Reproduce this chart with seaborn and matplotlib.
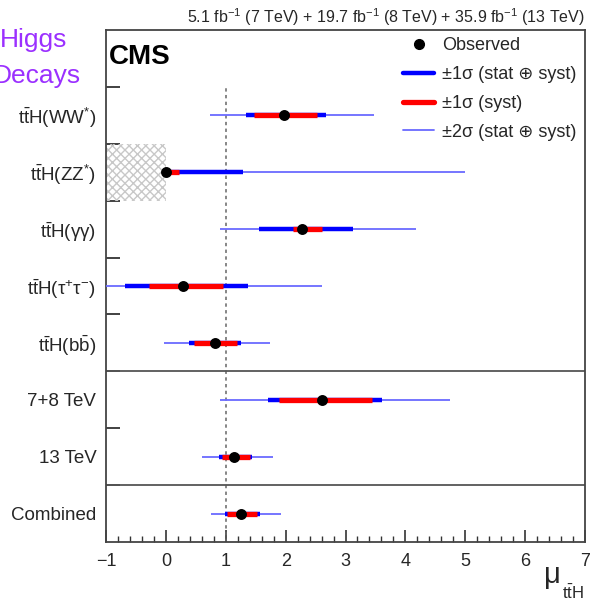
import numpy as np
import pandas as pd
import matplotlib
matplotlib.use("Agg")
import matplotlib.pyplot as plt
import seaborn as sns
from matplotlib.lines import Line2D
from matplotlib.ticker import MultipleLocator, FixedLocator

# ---------------- data ----------------
categories = [
    r"$\mathrm{t\bar{t}H(WW^{*})}$",
    r"$\mathrm{t\bar{t}H(ZZ^{*})}$",
    r"$\mathrm{t\bar{t}H(γγ)}$",
    r"$\mathrm{t\bar{t}H(τ^{+}τ^{-})}$",
    r"$\mathrm{t\bar{t}H(b\bar{b})}$",
    "7+8 TeV",
    "13 TeV",
    "Combined",
]
mu_obs   = [1.97, 0.00, 2.28, 0.28, 0.82, 2.60, 1.13, 1.26]
tot1_lo  = [1.34, 0.00, 1.55, -0.68, 0.39, 1.71, 0.88, 0.99]
tot1_hi  = [2.68, 1.29, 3.13, 1.37, 1.26, 3.61, 1.44, 1.57]
syst1_lo = [1.48, 0.00, 2.13, -0.29, 0.47, 1.89, 0.94, 1.02]
syst1_hi = [2.53, 0.22, 2.60, 0.96, 1.19, 3.45, 1.41, 1.52]
tot2_lo  = [0.74, 0.00, 0.90, -1.20, -0.03, 0.91, 0.61, 0.76]
tot2_hi  = [3.48, 4.99, 4.17, 2.61, 1.74, 4.75, 1.79, 1.93]
zz_excluded = (-1.0, 0.0)          # unphysical region shaded for ZZ*
sm_value = 1.0
x_ticks = [-1, 0, 1, 2, 3, 4, 5, 6, 7]
header = (r"5.1 fb$^{-1}$ (7 TeV) + 19.7 fb$^{-1}$ (8 TeV) + "
          r"35.9 fb$^{-1}$ (13 TeV)")
legend_labels = ["Observed", "±1σ (stat ⊕ syst)", "±1σ (syst)", "±2σ (stat ⊕ syst)"]

n = len(categories)
ypos = [n - 0.5 - i for i in range(n)]
df = pd.DataFrame({"cat": categories, "mu": mu_obs, "y": ypos})

# ---------------- style ----------------
sns.set_theme(style="ticks")
plt.rcParams["font.family"] = ["Liberation Sans", "DejaVu Sans"]
plt.rcParams["mathtext.fontset"] = "custom"
plt.rcParams["mathtext.rm"] = "Liberation Sans"
plt.rcParams["mathtext.it"] = "Liberation Sans:italic"
plt.rcParams["mathtext.bf"] = "Liberation Sans:bold"

W, H = 591, 601
fig = plt.figure(figsize=(W / 100, H / 100), dpi=100)
ax = fig.add_axes([106 / W, 1 - 542 / H, (585 - 106) / W, (542 - 30) / H])

BLUE = "#0000ff"
RED = "#ff0000"
LIGHT = "#6a6aff"

# hatched unphysical region for ZZ*
iz = 1
ax.fill_betweenx([ypos[iz] - 0.5, ypos[iz] + 0.5], zz_excluded[0], zz_excluded[1],
                 facecolor="none", edgecolor="#c8c8c8", hatch="xxxx", linewidth=0, zorder=1)

# SM line
ax.plot([sm_value, sm_value], [0, n], color="#666666", lw=1.1, ls=(0, (2.2, 2.2)), zorder=2)

# separators
ax.axhline(1, color="#555555", lw=1.3, zorder=2)
ax.axhline(3, color="#555555", lw=1.3, zorder=2)

# intervals
ax.hlines(ypos, tot2_lo, tot2_hi, color=LIGHT, lw=1.3, zorder=3)
ax.hlines(ypos, tot1_lo, tot1_hi, color=BLUE, lw=3.2, zorder=4)
ax.hlines(ypos, syst1_lo, syst1_hi, color=RED, lw=3.8, zorder=5)

sns.scatterplot(data=df, x="mu", y="y", color="black", s=62, edgecolor="black",
                linewidth=0, zorder=6, ax=ax, legend=False)

ax.set_xlim(-1, 7)
ax.set_ylim(0, n + 1)
ax.set_xlabel("")
ax.set_ylabel("")

ax.set_xticks(x_ticks)
ax.set_xticklabels(["−1" if t == -1 else str(t) for t in x_ticks], fontsize=13)
ax.xaxis.set_minor_locator(MultipleLocator(0.2))
ax.tick_params(axis="x", which="major", direction="in", length=9, width=1.2,
               color="#333333", pad=8, top=False)
ax.tick_params(axis="x", which="minor", direction="in", length=4.5, width=1.0,
               color="#333333", top=False)

ax.set_yticks(ypos)
ax.set_yticklabels(categories, fontsize=13.5)
ax.yaxis.set_minor_locator(FixedLocator(list(range(1, n + 1))))
ax.tick_params(axis="y", which="major", length=0, pad=7)
ax.tick_params(axis="y", which="minor", direction="in", length=10, width=1.3,
               color="#333333", right=False)

for s in ax.spines.values():
    s.set_color("#444444")
    s.set_linewidth(1.3)

# texts
fig.text(109 / W, 1 - 44 / H, "CMS", fontsize=20, fontweight="bold",
         ha="left", va="top", color="black")
fig.text(585 / W, 1 - 17 / H, header, ha="right", va="center", fontsize=11.5)
fig.text(67 / W, 1 - 47 / H, "Higgs", ha="right", va="baseline",
         fontsize=19, color="#9b30ff")
fig.text(81 / W, 1 - 83 / H, "Decays", ha="right", va="baseline",
         fontsize=19, color="#9b30ff")
fig.text(544 / W, 1 - 583 / H, "μ", ha="left", va="baseline", fontsize=21)
fig.text(562 / W, 1 - 599 / H, r"$\mathrm{t\bar{t}H}$", ha="left",
         va="baseline", fontsize=12)

handles = [
    Line2D([], [], marker="o", color="black", ls="none", markersize=7),
    Line2D([], [], color=BLUE, lw=3.2),
    Line2D([], [], color=RED, lw=3.8),
    Line2D([], [], color=LIGHT, lw=1.3),
]
fig.legend(handles, legend_labels, loc="upper left",
           bbox_to_anchor=(403 / W, 1 - 37 / H), frameon=False, fontsize=13,
           handlelength=1.72, handletextpad=0.44, labelspacing=0.66,
           borderpad=0, borderaxespad=0)

fig.savefig("out.png", dpi=100)
